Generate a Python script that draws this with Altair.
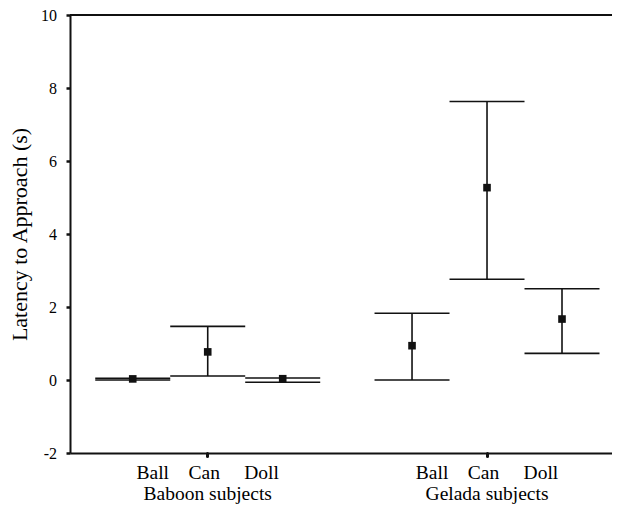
import json
import altair as alt
import pandas as pd

# ---- data ----
groups = ["Baboon subjects", "Gelada subjects"]
items = ["Ball", "Can", "Doll"]
means = [[0.03, 0.77, 0.035], [0.94, 5.27, 1.67]]
lowers = [[0.0, 0.11, -0.06], [0.0, 2.76, 0.73]]
uppers = [[0.05, 1.47, 0.055], [1.83, 7.63, 2.50]]
y_ticks = [-2, 0, 2, 4, 6, 8, 10]
y_title = "Latency to Approach (s)"

rows = []
for gi, g in enumerate(groups):
    for ii, it in enumerate(items):
        rows.append(dict(group=g, item=it, mean=means[gi][ii],
                         lower=lowers[gi][ii], upper=uppers[gi][ii]))
df = pd.DataFrame(rows)

NB = "\u00a0"
line1 = items[0] + NB * 4 + items[1] + NB * 5 + items[2]
lab_b = [line1, NB * 4 + groups[0]]
lab_g = [line1, groups[1] + NB * 3]
label_expr = "datum.value == %s ? %s : %s" % (
    json.dumps(groups[0], ensure_ascii=False),
    json.dumps(lab_b, ensure_ascii=False),
    json.dumps(lab_g, ensure_ascii=False),
)

FONT = "Liberation Serif"
INK = "#111111"

x_enc = alt.X(
    "group:N", sort=groups, title=None,
    scale=alt.Scale(paddingInner=0.105, paddingOuter=0.0228, align=1),
    axis=alt.Axis(
        labelExpr=label_expr, labelFont=FONT, labelFontSize=19.5, labelLineHeight=21,
        labelColor="black", labelPadding=7, labelAngle=0, labelOverlap=False,
        labelLimit=0, domainColor=INK, domainWidth=2, tickColor=INK,
        tickSize=3, tickWidth=3, tickCap="round",
    ),
)
xo_enc = alt.XOffset("item:N", sort=items,
                     scale=alt.Scale(paddingInner=0, paddingOuter=0.1667))
y_scale = alt.Scale(domain=[-2, 10], nice=False, zero=False)
y_axis = alt.Axis(
    values=y_ticks, labelExpr="'' + datum.value", title=y_title, titleFont=FONT,
    titleFontSize=22, titleFontWeight="normal", titleColor="black",
    titleX=-51, titleY=219, titleAngle=270, titleAlign="center",
    titleBaseline="middle",
    labelFont=FONT, labelFontSize=16, labelColor="black", labelPadding=9.5,
    domainColor=INK, domainWidth=2, tickColor=INK, tickSize=4, tickWidth=2.5,
    grid=False,
)

base = alt.Chart(df).encode(x=x_enc, xOffset=xo_enc)

bars = base.mark_rule(color=INK, strokeWidth=1.6).encode(
    y=alt.Y("lower:Q", scale=y_scale, axis=y_axis), y2="upper:Q")
cap_hi = base.mark_tick(color=INK, size=75, thickness=1.6, orient="horizontal",
                        opacity=1).encode(y=alt.Y("upper:Q"))
cap_lo = base.mark_tick(color=INK, size=75, thickness=1.6, orient="horizontal",
                        opacity=1).encode(y=alt.Y("lower:Q"))
pts = base.mark_square(color=INK, size=58, opacity=1, filled=True).encode(
    y=alt.Y("mean:Q"))
top_line = alt.Chart(df).mark_rule(color=INK, strokeWidth=1.3).encode(
    y=alt.datum(10))

chart = alt.layer(bars, cap_hi, cap_lo, pts, top_line).properties(
    width=542, height=438,
    autosize=alt.AutoSizeParams(type="none"),
    padding={"left": 62, "top": 7, "right": 0, "bottom": 59},
).configure_view(stroke=None).configure(background="white")

chart.save("out.html", embed_options={"renderer": "svg", "actions": False})
